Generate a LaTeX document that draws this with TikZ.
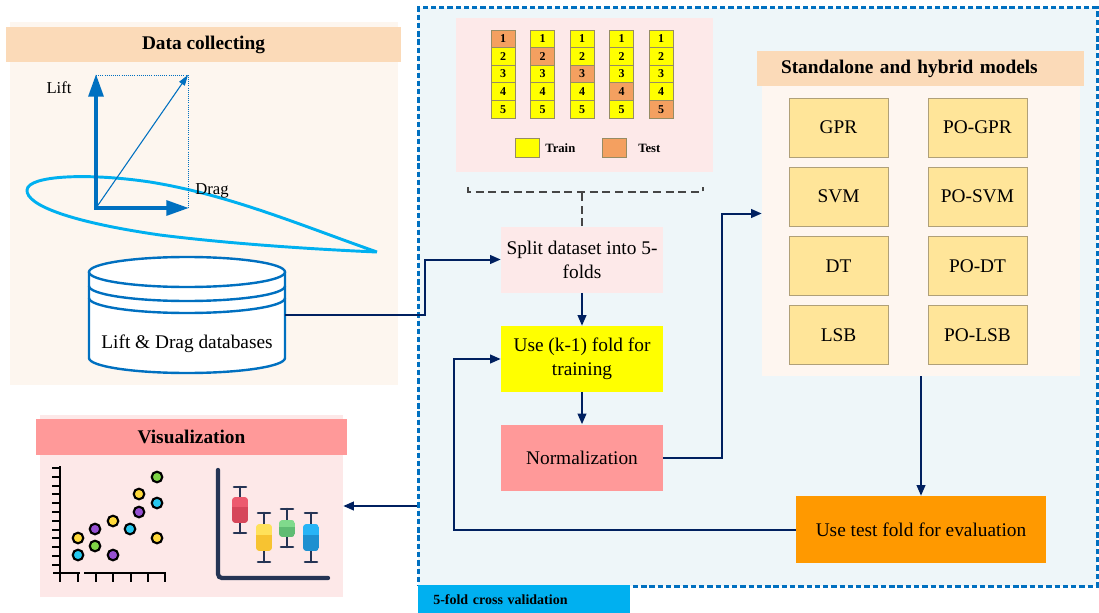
\documentclass[tikz,border=0pt]{standalone}
\usepackage{fontspec}
\setmainfont{Liberation Serif}
\usetikzlibrary{arrows.meta}

% colours
\definecolor{navyline}{RGB}{0,32,96}
\definecolor{frameblue}{RGB}{0,112,192}
\definecolor{frameback}{RGB}{238,246,249}
\definecolor{databack}{RGB}{253,246,239}
\definecolor{peach}{RGB}{251,218,184}
\definecolor{pinkback}{RGB}{253,233,233}
\definecolor{normfill}{RGB}{255,153,153}
\definecolor{evalfill}{RGB}{255,153,0}
\definecolor{modelfill}{RGB}{255,229,153}
\definecolor{modeledge}{RGB}{176,160,120}
\definecolor{modelback}{RGB}{254,246,240}
\definecolor{foilblue}{RGB}{0,176,240}
\definecolor{labelcyan}{RGB}{0,176,240}
\definecolor{trainfill}{RGB}{255,255,0}
\definecolor{testfill}{RGB}{244,160,96}
\definecolor{celledge}{RGB}{150,140,100}
\definecolor{bracketgray}{RGB}{70,70,70}
\definecolor{visback}{RGB}{253,232,232}
\definecolor{plotnavy}{RGB}{37,52,84}
\definecolor{dotgreen}{RGB}{126,211,70}
\definecolor{dotyellow}{RGB}{255,217,59}
\definecolor{dotcyan}{RGB}{38,200,240}
\definecolor{dotpurple}{RGB}{150,80,210}
\definecolor{boxredA}{RGB}{236,90,110}
\definecolor{boxredB}{RGB}{214,70,90}
\definecolor{boxyelA}{RGB}{255,225,90}
\definecolor{boxyelB}{RGB}{247,195,49}
\definecolor{boxgrnA}{RGB}{128,218,140}
\definecolor{boxgrnB}{RGB}{95,188,115}
\definecolor{boxbluA}{RGB}{40,180,246}
\definecolor{boxbluB}{RGB}{30,144,208}

\tikzset{
  panel/.style={rectangle, inner sep=0pt},
  bar/.style={rectangle, inner sep=0pt, font=\bfseries\fontsize{14.5}{17}\selectfont},
  stepbox/.style={rectangle, inner sep=2pt, align=center, font=\fontsize{14.5}{18}\selectfont},
  modelbox/.style={stepbox, fill=modelfill, draw=modeledge, line width=0.6pt, minimum width=74.25pt, minimum height=44.25pt},
  foldcell/.style={rectangle, draw=celledge, line width=0.5pt, inner sep=0pt, minimum width=18pt, minimum height=13.2pt, font=\bfseries\fontsize{9}{10}\selectfont},
  legendtext/.style={inner sep=0pt, font=\bfseries\fontsize{9.5}{11}\selectfont},
  link/.style={navyline, line width=1.5pt, -{Triangle[length=8pt,width=6.5pt]}},
  bracket/.style={bracketgray, line width=1.1pt, dash pattern=on 6pt off 3.5pt},
  force/.style={frameblue, line width=3pt, line cap=rect, -{Triangle[length=17pt,width=11pt]}},
  dbline/.style={frameblue, line width=1.8pt},
  ring/.style={black, line width=1.6pt},
  whisker/.style={plotnavy, line width=1.9pt, line cap=round},
}

\begin{document}
\begin{tikzpicture}[x=0.75pt,y=0.75pt,yscale=-1,xscale=1]
\useasboundingbox (0,0) rectangle (1099,613);
\fill[white] (0,0) rectangle (1099,613);

% cross validation frame
\node[panel, fill=frameback, draw=frameblue, line width=2.25pt, dash pattern=on 4pt off 2.2pt,
  minimum width=679*0.75pt, minimum height=578*0.75pt] (cv) at (757.5,297) {};
\node[panel, fill=labelcyan, anchor=north west, minimum height=28*0.75pt, inner xsep=11.25pt,
  text width=136.5pt, align=left, font=\bfseries\fontsize{10.5}{12}\selectfont] (cvlabel) at (418,585) {5-fold cross validation};

% data collecting
\node[panel, fill=databack, minimum width=388*0.75pt, minimum height=363*0.75pt] (datapanel) at (204,203.5) {};
\node[bar, fill=peach, minimum width=395*0.75pt, minimum height=35*0.75pt] (databar) at (203.5,44.5) {Data collecting};

\draw[foilblue, line width=2.2pt] (377,252) .. controls (300,225) and (230,195) .. (150,182)
  .. controls (90,173) and (28,175) .. (27,190)
  .. controls (26,205) and (70,222) .. (160,235)
  .. controls (240,245) and (330,250) .. (377,252);

\coordinate (origin) at (96,208);
\draw[frameblue, line width=0.6pt, densely dotted] (96,75) -- (188,75) -- (188,208);
\draw[frameblue, line width=0.8pt, -{Triangle[length=8pt,width=5pt]}] (origin) -- (188,75);
\draw[force] (origin) -- (96,74);
\draw[force] (origin) -- (189,208);
\node[font=\fontsize{12.5}{14}\selectfont] (liftlab) at (59,88) {Lift};
\node[font=\fontsize{12.5}{14}\selectfont] (draglab) at (212,191) {Drag};

% database
\draw[dbline, fill=white] (89,272) -- (89,358) arc[start angle=180, end angle=0, x radius=98, y radius=15] -- (285,272);
\draw[dbline, fill=white] (187,272) ellipse[x radius=98, y radius=15];
\draw[dbline] (89,286) arc[start angle=180, end angle=0, x radius=98, y radius=15];
\draw[dbline] (89,298) arc[start angle=180, end angle=0, x radius=98, y radius=15];
\node[panel, minimum width=196*0.75pt, minimum height=116*0.75pt] (db) at (187,315) {};
\node[stepbox] (dbtext) at (187,344) {Lift \& Drag databases};

% folds
\node[panel, fill=pinkback, minimum width=257*0.75pt, minimum height=154*0.75pt] (folds) at (584.5,95) {};
\foreach \c in {1,...,5}{
  \foreach \r in {1,...,5}{
    \ifnum\c=\r \def\cellcol{testfill}\else\def\cellcol{trainfill}\fi
    \node[foldcell, fill=\cellcol] (f\c\r) at ({503+39.5*(\c-1)},{38.8+17.6*(\r-1)}) {\r};
  }
}
\node[foldcell, fill=trainfill, minimum height=14.25pt] (trainkey) at (527,147.5) {};
\node[legendtext, anchor=west] (trainlab) at (545,148) {Train};
\node[foldcell, fill=testfill, minimum height=14.25pt] (testkey) at (614,147.5) {};
\node[legendtext, anchor=west] (testlab) at (638,148) {Test};

% steps
\node[stepbox, fill=pinkback, minimum width=162*0.75pt, minimum height=66*0.75pt] (split) at (582,259.5) {Split dataset into 5-\\folds};
\node[stepbox, fill=trainfill, minimum width=162*0.75pt, minimum height=66*0.75pt] (train) at (582,359) {Use (k-1) fold for\\training};
\node[stepbox, fill=normfill, minimum width=162*0.75pt, minimum height=66*0.75pt] (norm) at (582,457.5) {Normalization};
\node[stepbox, fill=evalfill, minimum width=250*0.75pt, minimum height=67*0.75pt] (evalbox) at (921,529.5) {Use test fold for evaluation};

\draw[bracket] (468,187) -- (468,192) -- (703,192) -- (703,187);
\draw[bracket] (split.north) -- (split.north |- 0,192);

% models
\node[panel, fill=modelback, minimum width=318*0.75pt, minimum height=325*0.75pt] (models) at (921,213.5) {};
\node[bar, fill=peach, minimum width=327*0.75pt, minimum height=35*0.75pt, inner xsep=18pt,
  text width=209.25pt, align=left] (modelbar) at (920.5,68.5) {Standalone and hybrid models};
\foreach \m/\y [count=\i] in {GPR/127.5, SVM/196.5, DT/266, LSB/335}{
  \node[modelbox] (sa\i) at (838.5,\y) {\m};
  \node[modelbox] (po\i) at (977.5,\y) {PO-\m};
}

% connectors
\draw[link] (db.east) -- ++(140,0) |- (split.west);
\draw[link] (split) -- (train);
\draw[link] (train) -- (norm);
\draw[link] (norm.east) -- ++(59,0) |- (models.west);
\draw[link] (models.south) -- (evalbox.north);
\draw[link] (evalbox.west) -- ++(-342,0) |- (train.west);

% visualization
\node[panel, fill=visback, minimum width=303*0.75pt, minimum height=182*0.75pt] (vis) at (191.5,506) {};
\node[bar, fill=normfill, minimum width=311*0.75pt, minimum height=36*0.75pt] (visbar) at (191.5,437) {Visualization};
\draw[link] (cv.west |- vis.east) -- (vis.east);

% scatter icon
\draw[black, line width=2.2pt] (60,466) -- (60,576);
\draw[black, line width=2.2pt] (53,573) -- (80,573);
\draw[black, line width=2.2pt] (84,573) -- (166,573);
\foreach \k in {0,...,11}
  \draw[black, line width=1.5pt] (52,{468+8.8*\k}) -- (60,{468+8.8*\k});
\foreach \x in {60,78,96,113,131,148,165}
  \draw[black, line width=1.8pt] (\x,573) -- (\x,582);
\foreach \x/\y/\c in {157/477/dotgreen, 139/494/dotyellow, 157/503/dotcyan, 139/512/dotpurple,
  113/521/dotyellow, 95/529/dotpurple, 130/529/dotcyan, 78/538/dotyellow,
  95/546/dotgreen, 157/538/dotyellow, 78/555/dotcyan, 113/555/dotpurple}
  \draw[ring, fill=\c] (\x,\y) circle[radius=5.3];

% box plot icon
\draw[plotnavy, line width=3.2pt, line cap=round, rounded corners=3pt] (218,470) -- (218,578) -- (328,578);
\foreach \bx/\wtop/\wbot/\btop/\bbot/\cA/\cB in {240/487/533/497/523/boxredA/boxredB,
  264/513/562/524/551/boxyelA/boxyelB, 287/509/547/520/537/boxgrnA/boxgrnB,
  311/513/562/524/551/boxbluA/boxbluB}{
  \draw[whisker] (\bx,\wtop) -- (\bx,\wbot);
  \draw[whisker] ({\bx-6},\wtop) -- ({\bx+6},\wtop);
  \draw[whisker] ({\bx-6},\wbot) -- ({\bx+6},\wbot);
  \begin{scope}
    \clip[rounded corners=2.5pt] ({\bx-8},\btop) rectangle ({\bx+8},\bbot);
    \fill[\cA] ({\bx-8},\btop) rectangle ({\bx+8},{\btop+0.4*(\bbot-\btop)});
    \fill[\cB] ({\bx-8},{\btop+0.4*(\bbot-\btop)}) rectangle ({\bx+8},\bbot);
  \end{scope}
}
\end{tikzpicture}
\end{document}
